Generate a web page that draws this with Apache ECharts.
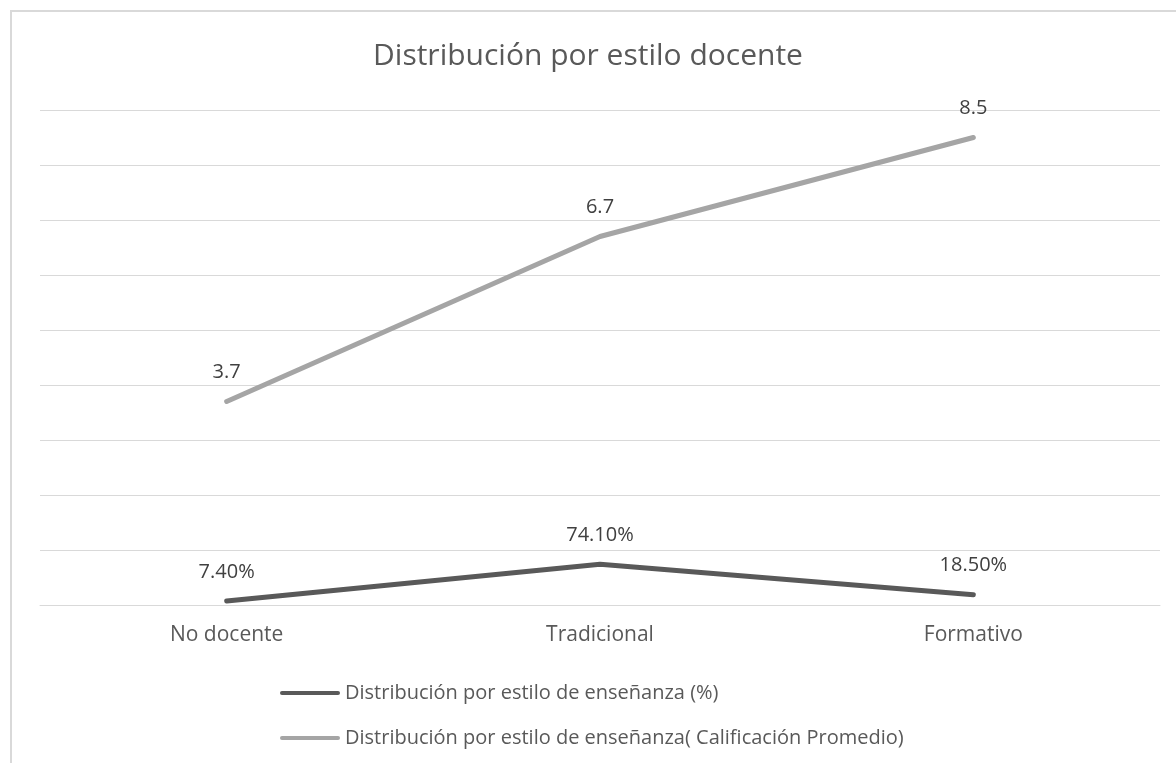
<!DOCTYPE html>
<html>
<head>
<meta charset="utf-8">
<script src="https://cdn.jsdelivr.net/npm/echarts@6/dist/echarts.min.js"></script>
<style>
  html, body { margin: 0; padding: 0; background: #fff; }
  #chart { width: 1176px; height: 763px; }
  #frame { position: absolute; left: 10px; top: 10px; width: 1200px; height: 800px;
           border: 2px solid #d9d9d9; box-sizing: border-box; pointer-events: none; }
</style>
</head>
<body>
<div id="chart"></div>
<div id="frame"></div>
<script>
// Teaching style categories
const categories = ['No docente', 'Tradicional', 'Formativo'];
// Share of teachers per style (fraction, shown as %)
const sharePct = [0.074, 0.741, 0.185];
// Average grade per style
const avgGrade = [3.7, 6.7, 8.5];
const seriesNames = [
  'Distribución por estilo de enseñanza (%)',
  'Distribución por estilo de enseñanza( Calificación Promedio)'
];

const FONT = 'Open Sans';
const LEGEND_ICON = 'path://M2,0 L58,0 A2,2 0 0 1 58,4 L2,4 A2,2 0 0 1 2,0 Z';
const chart = echarts.init(document.getElementById('chart'));
chart.setOption({
  animation: false,
  title: {
    text: 'Distribución por estilo docente',
    left: 'center', top: 36,
    textStyle: { fontFamily: FONT, fontSize: 30, fontWeight: 'normal', color: '#595959' }
  },
  grid: { left: 40, right: 16, top: 110, bottom: 158 },
  legend: {
    orient: 'vertical', left: 275, top: 678, itemGap: 25,
    itemWidth: 60, itemHeight: 5,
    textStyle: { fontFamily: FONT, fontSize: 20, color: '#595959' },
    data: [
      { name: seriesNames[0], icon: LEGEND_ICON },
      { name: seriesNames[1], icon: LEGEND_ICON }
    ]
  },
  xAxis: {
    type: 'category', data: categories, boundaryGap: true,
    axisLine: { lineStyle: { color: '#d9d9d9', width: 1 } },
    axisTick: { show: false },
    axisLabel: { fontFamily: FONT, fontSize: 21, color: '#595959', margin: 20 }
  },
  yAxis: {
    type: 'value', min: 0, max: 9, interval: 1,
    axisLabel: { show: false }, axisLine: { show: false }, axisTick: { show: false },
    splitLine: { lineStyle: { color: '#d9d9d9', width: 1 } }
  },
  series: [
    {
      name: seriesNames[0], type: 'line', data: sharePct,
      symbol: 'circle', symbolSize: 0.1, showSymbol: true,
      lineStyle: { color: '#595959', width: 5, cap: 'round', join: 'round' },
      itemStyle: { color: '#595959' },
      label: {
        show: true, position: 'top', distance: 19,
        fontFamily: FONT, fontSize: 20, color: '#404040',
        formatter: p => (p.value * 100).toFixed(2) + '%'
      }
    },
    {
      name: seriesNames[1], type: 'line', data: avgGrade,
      symbol: 'circle', symbolSize: 0.1, showSymbol: true,
      lineStyle: { color: '#a5a5a5', width: 5, cap: 'round', join: 'round' },
      itemStyle: { color: '#a5a5a5' },
      label: {
        show: true, position: 'top', distance: 19,
        fontFamily: FONT, fontSize: 20, color: '#404040',
        formatter: p => p.value.toFixed(1)
      }
    }
  ]
});
</script>
</body>
</html>
